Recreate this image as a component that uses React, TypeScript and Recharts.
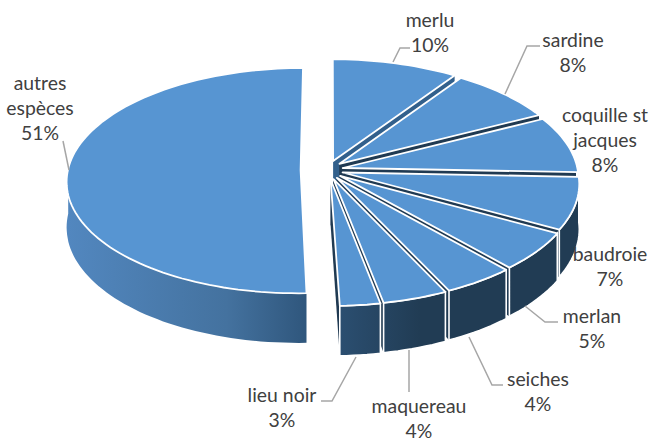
import React from 'react';
import { PieChart, Pie } from 'recharts';

const categories = ['merlu', 'sardine', 'coquille st jacques', 'baudroie', 'merlan', 'seiches', 'maquereau', 'lieu noir', 'autres espèces'];
const values = [9.5, 8.0, 8.1, 7.4, 5.45, 4.45, 4.05, 2.5, 50.55];
const percentLabels = ['10%', '8%', '8%', '7%', '5%', '4%', '4%', '3%', '51%'];
const labelLines = [['merlu'], ['sardine'], ['coquille st', 'jacques'], ['baudroie'], ['merlan'], ['seiches'], ['maquereau'], ['lieu noir'], ['autres', 'espèces']];

const data = categories.map((name, i) => ({ name, value: values[i] }));

// layout of the fake 3D view
const CX = 329;
const CY = 170;
const RX = 235;
const TILT = 0.48;
const PERSP = 0.093;
const DEPTH = 45;

const LABEL_POS = [
  [430, 15], [573, 35], [605, 110], [610, 249], [592, 311], [538, 374], [419, 401], [282, 390], [40, 78],
];
const LEADERS = [
  '393,62 400,48 410,48',
  '505,94 527,46 540,46',
  '',
  '',
  '525,306 545,322 558,322',
  '469,337 492,385 503,385',
  '409,350 409,392',
  '356,357 332,401 321,401',
  '69,170 63,141',
];

// world coords (x right, y towards viewer, unit circle) to screen
function project(wx: number, wy: number, z = 0) {
  const f = 1 / (1 - PERSP * wy);
  return [CX + RX * wx * f, CY + RX * TILT * wy * f + z * DEPTH * f];
}

function pts(list: number[][]) {
  return list.map(p => `${p[0].toFixed(1)},${p[1].toFixed(1)}`).join(' ');
}

function Slice3D(props: any) {
  const { startAngle, endAngle, index } = props;
  const a0 = ((90 - startAngle) * Math.PI) / 180;
  const a1 = ((90 - endAngle) * Math.PI) / 180;
  const mid = (a0 + a1) / 2;
  const big = index === categories.length - 1;
  const r = big ? 0.99 : 1;
  const ox = big ? 0.121 * Math.sin(mid) : 0.06 * Math.sin(mid);
  const oy = big ? -0.121 * Math.cos(mid) : -0.084 * Math.cos(mid);

  const angles: number[] = [];
  const steps = Math.max(6, Math.ceil((a1 - a0) / 0.03));
  for (let i = 0; i <= steps; i++) angles.push(a0 + ((a1 - a0) * i) / steps);
  const toWorld = (a: number) => [ox + r * Math.sin(a), oy - r * Math.cos(a)];
  const top = angles.map(a => project(toWorld(a)[0], toWorld(a)[1]));
  const apex = project(ox, oy);
  const apexLow = project(ox, oy, 1);
  const bottomStart = project(toWorld(a0)[0], toWorld(a0)[1], 1);
  const bottomEnd = project(toWorld(a1)[0], toWorld(a1)[1], 1);

  // only the front part of the rim shows a wall
  const front = angles.filter(a => Math.cos(a) < 0.03);
  const wallTop = front.map(a => project(toWorld(a)[0], toWorld(a)[1]));
  const wallLow = front.map(a => project(toWorld(a)[0], toWorld(a)[1], 1));

  const cutFill = index === 0 ? '#32608c' : '#203a52';
  return (
    <g>
      {!big && <polygon points={pts([apex, top[0], bottomStart, apexLow])} fill={cutFill} />}
      {!big && <polygon points={pts([apex, top[steps], bottomEnd, apexLow])} fill={cutFill} />}
      {front.length > 1 && (
        <polygon points={pts([...wallTop, ...wallLow.slice().reverse()])} fill="url(#wallShade)" stroke="#fff" strokeWidth={big ? 0 : 1.6} />
      )}
      <polygon points={pts([apex, ...top])} fill="#5795d2" stroke="#fff" strokeWidth={1.8} strokeLinejoin="round" />
    </g>
  );
}

function SliceLabel(props: any) {
  const { index } = props;
  const [x, y] = LABEL_POS[index];
  const lines = [...labelLines[index], percentLabels[index]];
  const leader = LEADERS[index];
  return (
    <g>
      {leader && <polyline points={leader} fill="none" stroke="#a6a6a6" strokeWidth={1.5} />}
      <text x={x} y={y} textAnchor="middle" fontFamily="Lato, sans-serif" fontSize={19.4} fill="#404040">
        {lines.map((t, i) => (
          <tspan key={i} x={x} dy={i === 0 ? 12 : 25}>{t}</tspan>
        ))}
      </text>
    </g>
  );
}

export default function App() {
  return (
    <div style={{ position: 'absolute', left: 0, top: 0, width: 650, height: 441, background: '#fff' }}>
      <PieChart width={650} height={441} margin={{ top: 0, right: 0, bottom: 0, left: 0 }}>
        <defs>
          <linearGradient id="wallShade" gradientUnits="userSpaceOnUse" x1={68} y1={0} x2={420} y2={0}>
            <stop offset="0" stopColor="#5287bf" />
            <stop offset="0.45" stopColor="#44729f" />
            <stop offset="0.68" stopColor="#2f567c" />
            <stop offset="1" stopColor="#213c54" />
          </linearGradient>
        </defs>
        <Pie
          data={data}
          dataKey="value"
          nameKey="name"
          cx={CX}
          cy={CY}
          outerRadius={RX}
          startAngle={90}
          endAngle={-270}
          stroke="none"
          shape={Slice3D}
          label={SliceLabel}
          labelLine={false}
          isAnimationActive={false}
        />
      </PieChart>
    </div>
  );
}
